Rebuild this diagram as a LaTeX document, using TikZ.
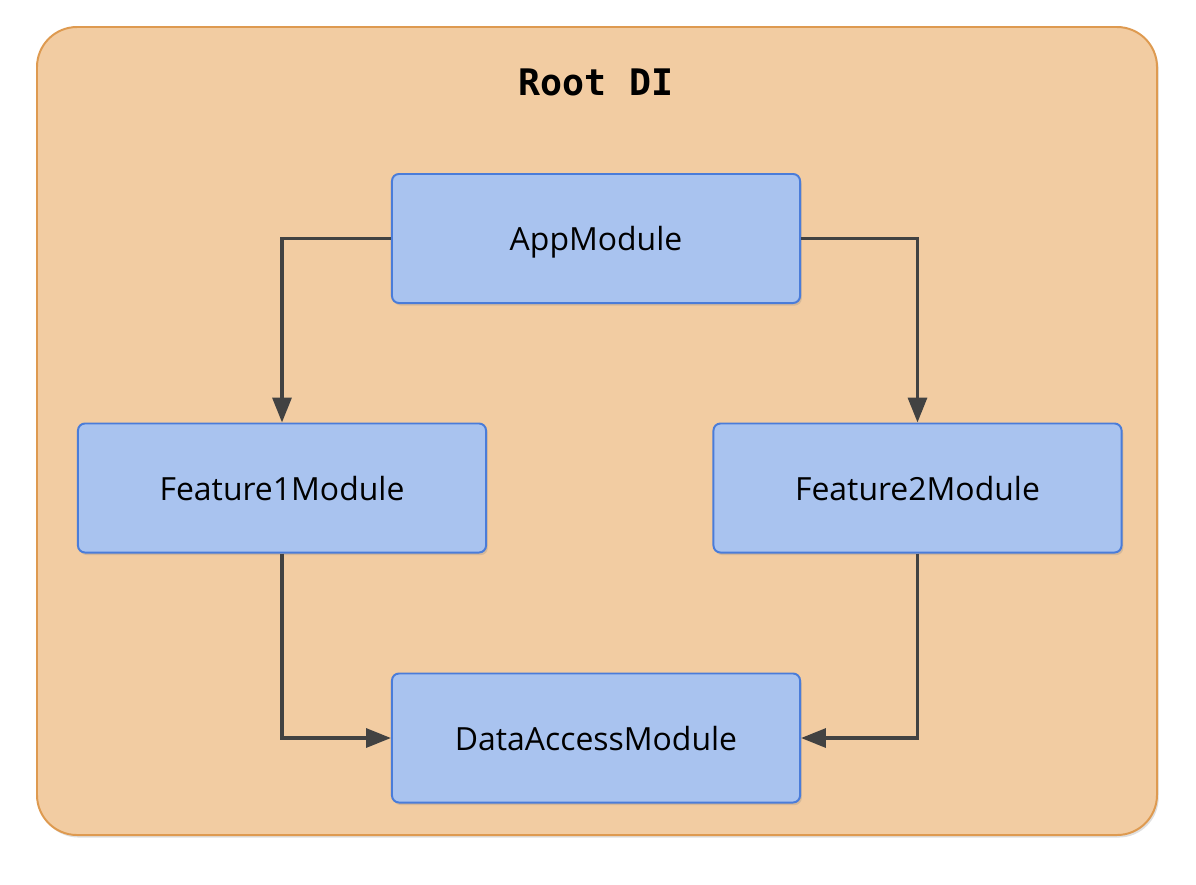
\documentclass[tikz,border=0pt]{standalone}
\usepackage{fontspec}
\setmainfont{Open Sans}
\newfontfamily\titlemono{DejaVu Sans Mono}
\usetikzlibrary{arrows.meta,shadows}
\definecolor{rootfill}{HTML}{F2CCA2}
\definecolor{rootline}{HTML}{DE9A50}
\definecolor{modfill}{HTML}{A9C3EF}
\definecolor{modline}{HTML}{4A7CD9}
\definecolor{wire}{HTML}{424242}
\tikzset{
  module/.style={draw=modline,fill=modfill,line width=1.4pt,rounded corners=5pt,
    minimum width=10.2cm,minimum height=3.225cm,inner sep=0pt,text depth=0pt,
    font=\fontsize{22.7}{26}\selectfont,
    drop shadow={opacity=0.25,shadow xshift=1.2pt,shadow yshift=-1.8pt}},
  dep/.style={wire,line width=2.5pt,-{Triangle[length=0.62cm,width=0.47cm]}}
}
\begin{document}
\begin{tikzpicture}[x=0.025cm,y=-0.025cm]
  \useasboundingbox (0,0) rectangle (1196,884);
  \draw[rootline,fill=rootfill,line width=1.4pt,rounded corners=1cm,
    drop shadow={opacity=0.25,shadow xshift=1.2pt,shadow yshift=-1.8pt}]
    (37,27) rectangle (1157,835);
  \node (title) at (596,82) {\titlemono\bfseries\fontsize{26}{30}\selectfont Root DI};
  \node[module] (app) at (596,238.5) {AppModule};
  \node[module] (feat1) at (282,488) {Feature1Module};
  \node[module] (feat2) at (917.5,488) {Feature2Module};
  \node[module] (data) at (596,738) {DataAccessModule};
  \draw[dep] (app.west) -| (feat1.north);
  \draw[dep] (app.east) -| (feat2.north);
  \draw[dep] (feat1.south) |- (data.west);
  \draw[dep] (feat2.south) |- (data.east);
\end{tikzpicture}
\end{document}
